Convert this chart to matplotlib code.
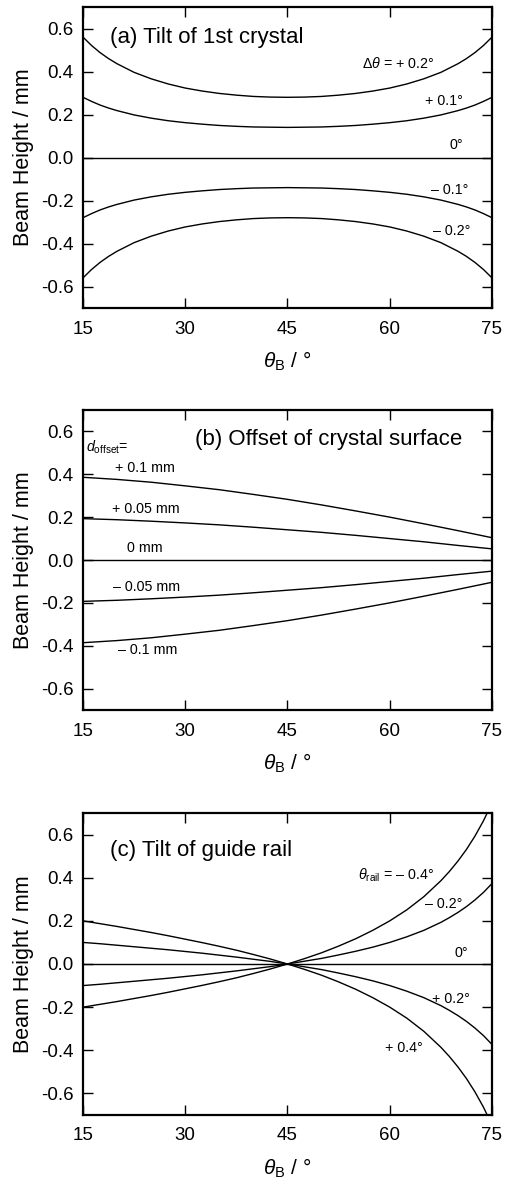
import matplotlib
matplotlib.use("Agg")
import matplotlib.pyplot as plt

plt.rcParams['font.family'] = ['Liberation Sans', 'DejaVu Sans']
plt.rcParams['mathtext.fontset'] = 'custom'
plt.rcParams['mathtext.rm'] = 'Liberation Sans'
plt.rcParams['mathtext.it'] = 'Liberation Sans:italic'
plt.rcParams['mathtext.bf'] = 'Liberation Sans:bold'
plt.rcParams['axes.unicode_minus'] = False

# ---------------- data ----------------
theta_a = [15, 16.25, 17.5, 18.75, 20, 22.5, 25, 27.5, 30, 32.5, 35, 37.5, 40, 42.5, 45,
           47.5, 50, 52.5, 55, 57.5, 60, 62.5, 65, 67.5, 70, 71.25, 72.5, 73.75, 75]
a_p02 = [0.560, 0.521, 0.488, 0.460, 0.436, 0.396, 0.366, 0.342, 0.323, 0.309, 0.298, 0.290, 0.284, 0.281, 0.280,
         0.281, 0.284, 0.290, 0.298, 0.309, 0.323, 0.342, 0.366, 0.396, 0.436, 0.460, 0.488, 0.521, 0.560]
a_p01 = [0.280, 0.261, 0.244, 0.230, 0.218, 0.198, 0.183, 0.171, 0.162, 0.155, 0.149, 0.145, 0.142, 0.141, 0.140,
         0.141, 0.142, 0.145, 0.149, 0.155, 0.162, 0.171, 0.183, 0.198, 0.218, 0.230, 0.244, 0.261, 0.280]
a_0 = [0.0] * 29
a_m01 = [-0.280, -0.261, -0.244, -0.230, -0.218, -0.198, -0.183, -0.171, -0.162, -0.155, -0.149, -0.145, -0.142, -0.141, -0.140,
         -0.141, -0.142, -0.145, -0.149, -0.155, -0.162, -0.171, -0.183, -0.198, -0.218, -0.230, -0.244, -0.261, -0.280]
a_m02 = [-0.560, -0.521, -0.488, -0.460, -0.436, -0.396, -0.366, -0.342, -0.323, -0.309, -0.298, -0.290, -0.284, -0.281, -0.280,
         -0.281, -0.284, -0.290, -0.298, -0.309, -0.323, -0.342, -0.366, -0.396, -0.436, -0.460, -0.488, -0.521, -0.560]
a_labels = ["$\\Delta\\theta$ = + 0.2°", "+ 0.1°", "0°", "– 0.1°", "– 0.2°"]

theta_b = [15, 20, 25, 30, 35, 40, 45, 50, 55, 60, 65, 70, 75]
b_p010 = [0.386, 0.376, 0.363, 0.346, 0.328, 0.306, 0.283, 0.257, 0.229, 0.200, 0.169, 0.137, 0.104]
b_p005 = [0.193, 0.188, 0.181, 0.173, 0.164, 0.153, 0.141, 0.129, 0.115, 0.100, 0.085, 0.068, 0.052]
b_0 = [0.0] * 13
b_m005 = [-0.193, -0.188, -0.181, -0.173, -0.164, -0.153, -0.141, -0.129, -0.115, -0.100, -0.085, -0.068, -0.052]
b_m010 = [-0.386, -0.376, -0.363, -0.346, -0.328, -0.306, -0.283, -0.257, -0.229, -0.200, -0.169, -0.137, -0.104]
b_labels = ["+ 0.1 mm", "+ 0.05 mm", "0 mm", "– 0.05 mm", "– 0.1 mm"]

theta_c = [15, 17.5, 20, 22.5, 25, 27.5, 30, 32.5, 35, 37.5, 40, 42.5, 45,
           47.5, 50, 52.5, 55, 57.5, 60, 62.5, 65, 67.5, 68.75, 70, 71.25, 72.5, 73.75, 75]
c_m04 = [-0.200, -0.187, -0.174, -0.160, -0.146, -0.131, -0.115, -0.099, -0.082, -0.064, -0.044, -0.023, 0.000,
         0.025, 0.052, 0.083, 0.117, 0.156, 0.200, 0.251, 0.312, 0.386, 0.429, 0.477, 0.531, 0.593, 0.664, 0.746]
c_m02 = [-0.100, -0.094, -0.087, -0.080, -0.073, -0.066, -0.058, -0.050, -0.041, -0.032, -0.022, -0.012, 0.000,
         0.013, 0.026, 0.042, 0.059, 0.078, 0.100, 0.126, 0.156, 0.193, 0.215, 0.239, 0.266, 0.297, 0.332, 0.373]
c_0 = [0.0] * 28
c_p02 = [0.100, 0.094, 0.087, 0.080, 0.073, 0.066, 0.058, 0.050, 0.041, 0.032, 0.022, 0.012, 0.000,
         -0.013, -0.026, -0.042, -0.059, -0.078, -0.100, -0.126, -0.156, -0.193, -0.215, -0.239, -0.266, -0.297, -0.332, -0.373]
c_p04 = [0.200, 0.187, 0.174, 0.160, 0.146, 0.131, 0.115, 0.099, 0.082, 0.064, 0.044, 0.023, 0.000,
         -0.025, -0.052, -0.083, -0.117, -0.156, -0.200, -0.251, -0.312, -0.386, -0.429, -0.477, -0.531, -0.593, -0.664, -0.746]
c_labels = ["$\\theta_{\\mathrm{rail}}$ = – 0.4°", "– 0.2°", "0°", "+ 0.2°", "+ 0.4°"]

x_ticks = [15, 30, 45, 60, 75]
y_ticks = [-0.6, -0.4, -0.2, 0.0, 0.2, 0.4, 0.6]
y_ticklabels = ["-0.6", "-0.4", "-0.2", "0.0", "0.2", "0.4", "0.6"]
titles = ["(a) Tilt of 1st crystal", "(b) Offset of crystal surface", "(c) Tilt of guide rail"]

# ---------------- figure ----------------
W, H = 506, 1178
fig = plt.figure(figsize=(W / 100, H / 100), dpi=100)

left = 83 / W
width = 409 / W
tops = [7, 410, 813]
heights = [301, 300, 302]

axes = []
for t, h in zip(tops, heights):
    ax = fig.add_axes([left, 1 - (t + h) / H, width, h / H])
    axes.append(ax)

LW = 1.0
LAB_FS = 10.3
for ax in axes:
    ax.set_xlim(15, 75)
    ax.set_ylim(-0.7, 0.7)
    ax.set_xticks(x_ticks)
    ax.set_xticklabels([str(v) for v in x_ticks])
    ax.set_yticks(y_ticks)
    ax.set_yticklabels(y_ticklabels)
    ax.tick_params(direction='in', length=7, width=1.0, top=True, right=True,
                   labelsize=13.5)
    ax.tick_params(axis='x', pad=9)
    ax.tick_params(axis='y', pad=7)
    for s in ax.spines.values():
        s.set_linewidth(1.6)
    ax.set_xlabel("$\\theta_{\\mathrm{B}}$ / °", fontsize=15, labelpad=9)
    ax.set_ylabel("Beam Height / mm", fontsize=15.5, labelpad=5)

# panel a
ax = axes[0]
for ys in [a_p02, a_p01, a_0, a_m01, a_m02]:
    ax.plot(theta_a, ys, color='black', lw=LW)
ax.text(19.0, 0.558, titles[0], fontsize=16, va='center', ha='left')
a_pos = [(66.6, 0.437), (70.7, 0.265), (70.7, 0.056), (71.5, -0.153), (71.8, -0.34)]
for (x, y), s in zip(a_pos, a_labels):
    ax.text(x, y, s, fontsize=LAB_FS, ha='right', va='center')

# panel b
ax = axes[1]
for ys in [b_p010, b_p005, b_0, b_m005, b_m010]:
    ax.plot(theta_b, ys, color='black', lw=LW)
ax.text(31.4, 0.563, titles[1], fontsize=16, va='center', ha='left')
ax.text(15.5, 0.525, "$d_{\\mathrm{offset}}$=", fontsize=LAB_FS, ha='left', va='center')
b_pos = [(19.7, 0.43), (19.25, 0.237), (21.4, 0.056), (19.4, -0.126), (20.1, -0.42)]
for (x, y), s in zip(b_pos, b_labels):
    ax.text(x, y, s, fontsize=LAB_FS, ha='left', va='center')

# panel c
ax = axes[2]
for ys in [c_m04, c_m02, c_0, c_p02, c_p04]:
    ax.plot(theta_c, ys, color='black', lw=LW)
ax.text(19.0, 0.526, titles[2], fontsize=16, va='center', ha='left')
c_pos = [(66.6, 0.41), (70.6, 0.28), (71.5, 0.05), (71.8, -0.163), (64.9, -0.39)]
for (x, y), s in zip(c_pos, c_labels):
    ax.text(x, y, s, fontsize=LAB_FS, ha='right', va='center')

fig.savefig("out.png", dpi=100)
